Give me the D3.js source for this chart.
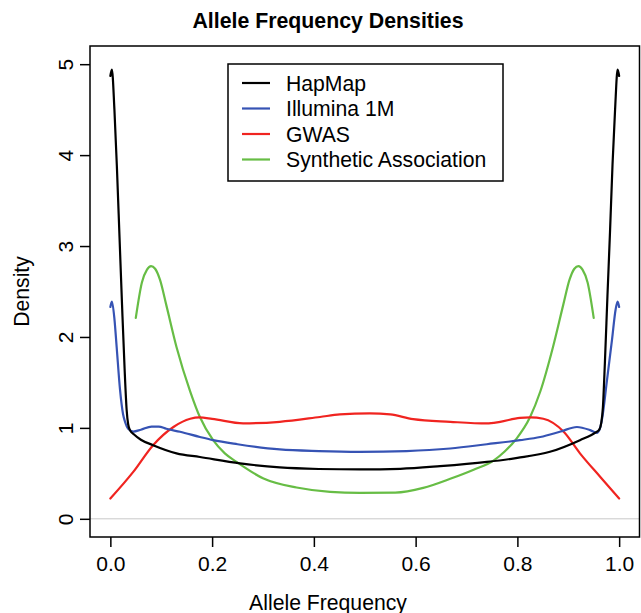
<!DOCTYPE html>
<html>
<head>
<meta charset="utf-8">
<script src="https://cdn.jsdelivr.net/npm/d3@7"></script>
<style>
  html, body { margin: 0; padding: 0; background: #fff; }
  svg { display: block; font-family: "Liberation Sans", Arial, Helvetica, sans-serif; }
</style>
</head>
<body>
<svg id="chart" width="641" height="613"></svg>
<script>
// ---- Data ----
const seriesNames = ["HapMap", "Illumina 1M", "GWAS", "Synthetic Association"];
const seriesColors = ["#000000", "#3653B4", "#F02420", "#67BD45"];

const hapmapX = [0, 0.003, 0.008, 0.013, 0.018, 0.023, 0.028, 0.032, 0.035, 0.039, 0.046, 0.06, 0.084, 0.13, 0.176, 0.255, 0.333, 0.41, 0.49, 0.57, 0.648, 0.74, 0.80, 0.864, 0.923, 0.954, 0.961, 0.965, 0.968, 0.972, 0.977, 0.982, 0.987, 0.992, 0.997, 1.0];
const hapmapY = [4.87, 4.94, 4.5, 3.85, 3.1, 2.35, 1.65, 1.2, 1.04, 0.97, 0.93, 0.87, 0.81, 0.72, 0.68, 0.61, 0.565, 0.548, 0.543, 0.55, 0.579, 0.626, 0.67, 0.737, 0.865, 0.95, 0.98, 1.06, 1.22, 1.72, 2.45, 3.15, 3.9, 4.5, 4.94, 4.87];

const illuminaX = [0, 0.003, 0.008, 0.0124, 0.019, 0.025, 0.0287, 0.035, 0.045, 0.06, 0.081, 0.095, 0.11, 0.137, 0.176, 0.202, 0.25, 0.333, 0.41, 0.49, 0.582, 0.668, 0.74, 0.805, 0.845, 0.885, 0.917, 0.943, 0.956, 0.962, 0.966, 0.976, 0.986, 0.993, 0.997, 1.0];
const illuminaY = [2.33, 2.39, 2.2, 1.89, 1.42, 1.15, 1.07, 0.99, 0.96, 0.98, 1.015, 1.015, 0.99, 0.957, 0.9, 0.865, 0.82, 0.763, 0.745, 0.737, 0.745, 0.773, 0.82, 0.865, 0.9, 0.96, 1.01, 0.975, 0.946, 0.99, 1.085, 1.52, 1.97, 2.3, 2.39, 2.33];

const gwasX = [0, 0.045, 0.084, 0.124, 0.157, 0.175, 0.2, 0.261, 0.333, 0.412, 0.451, 0.51, 0.55, 0.595, 0.668, 0.74, 0.766, 0.805, 0.825, 0.851, 0.891, 0.923, 0.963, 1.0];
const gwasY = [0.223, 0.516, 0.81, 1.01, 1.10, 1.115, 1.1, 1.05, 1.067, 1.12, 1.148, 1.16, 1.148, 1.096, 1.067, 1.049, 1.067, 1.11, 1.115, 1.10, 0.957, 0.72, 0.46, 0.223];

const synthX = [0.05, 0.062, 0.072, 0.08, 0.088, 0.0975, 0.11, 0.13, 0.157, 0.176, 0.202, 0.225, 0.248, 0.301, 0.366, 0.432, 0.49, 0.56, 0.615, 0.668, 0.714, 0.753, 0.775, 0.798, 0.825, 0.845, 0.87, 0.89, 0.9025, 0.912, 0.92, 0.928, 0.938, 0.95];
const synthY = [2.21, 2.6, 2.74, 2.78, 2.75, 2.63, 2.35, 1.89, 1.40, 1.12, 0.865, 0.72, 0.626, 0.443, 0.344, 0.296, 0.285, 0.288, 0.34, 0.44, 0.54, 0.64, 0.74, 0.88, 1.12, 1.40, 1.89, 2.35, 2.63, 2.75, 2.78, 2.74, 2.6, 2.21];

const xTicks = [0.0, 0.2, 0.4, 0.6, 0.8, 1.0];
const yTicks = [0, 1, 2, 3, 4, 5];

const titleText = "Allele Frequency Densities";
const xLabel = "Allele Frequency";
const yLabel = "Density";

// ---- Layout ----
const svg = d3.select("#chart");
const box = { left: 90, right: 639.5, top: 46, bottom: 537 };

const x = d3.scaleLinear().domain([-0.04, 1.04]).range([box.left, box.right]);
const y = d3.scaleLinear().domain([-0.2, 5.2]).range([box.bottom, box.top]);

// zero line
svg.append("line")
  .attr("x1", box.left).attr("x2", box.right)
  .attr("y1", y(0)).attr("y2", y(0))
  .attr("stroke", "#c8c8c8").attr("stroke-width", 1);

// curves
const seriesData = [
  d3.zip(hapmapX, hapmapY),
  d3.zip(illuminaX, illuminaY),
  d3.zip(gwasX, gwasY),
  d3.zip(synthX, synthY)
];
const line = d3.line().x(d => x(d[0])).y(d => y(d[1])).curve(d3.curveMonotoneX);
const drawOrder = [3, 2, 1, 0];
drawOrder.forEach(i => {
  svg.append("path")
    .attr("d", line(seriesData[i]))
    .attr("fill", "none")
    .attr("stroke", seriesColors[i])
    .attr("stroke-width", 2.2)
    .attr("stroke-linejoin", "round")
    .attr("stroke-linecap", "round");
});

// plot box
svg.append("rect")
  .attr("x", box.left).attr("y", box.top)
  .attr("width", box.right - box.left).attr("height", box.bottom - box.top)
  .attr("fill", "none").attr("stroke", "#000").attr("stroke-width", 1.5);

// x axis
const xAxis = d3.axisBottom(x).tickValues(xTicks).tickFormat(d3.format(".1f")).tickSize(10).tickPadding(9);
const gx = svg.append("g").attr("transform", `translate(0,${box.bottom})`).call(xAxis);
gx.select(".domain").remove();
gx.selectAll(".tick line").attr("stroke", "#000").attr("stroke-width", 1.5);
gx.selectAll(".tick text").attr("font-size", 21).attr("fill", "#000")
  .attr("font-family", "Liberation Sans, Arial, sans-serif");

// y axis
const yAxis = d3.axisLeft(y).tickValues(yTicks).tickFormat(d3.format("d")).tickSize(10).tickPadding(0);
const gy = svg.append("g").attr("transform", `translate(${box.left},0)`).call(yAxis);
gy.select(".domain").remove();
gy.selectAll(".tick line").attr("stroke", "#000").attr("stroke-width", 1.5);
gy.selectAll(".tick text")
  .attr("font-size", 21).attr("fill", "#000")
  .attr("font-family", "Liberation Sans, Arial, sans-serif")
  .attr("x", null).attr("dy", null)
  .attr("text-anchor", "middle")
  .attr("transform", "translate(-17,0) rotate(-90)")
  .attr("y", 0);

// title
svg.append("text")
  .attr("x", 328).attr("y", 28)
  .attr("text-anchor", "middle")
  .attr("font-size", 21.3).attr("font-weight", "bold")
  .text(titleText);

// axis labels
svg.append("text")
  .attr("x", 328).attr("y", 610)
  .attr("text-anchor", "middle")
  .attr("font-size", 21.2)
  .text(xLabel);

svg.append("text")
  .attr("transform", `translate(29,${(box.top + box.bottom) / 2}) rotate(-90)`)
  .attr("text-anchor", "middle")
  .attr("font-size", 21.2)
  .text(yLabel);

// legend
const lg = { x: 228, y: 64, w: 275, h: 117 };
svg.append("rect")
  .attr("x", lg.x).attr("y", lg.y).attr("width", lg.w).attr("height", lg.h)
  .attr("fill", "#fff").attr("stroke", "#000").attr("stroke-width", 1.5);
seriesNames.forEach((name, i) => {
  const cy = 83 + i * 25.5;
  svg.append("line")
    .attr("x1", 242).attr("x2", 270).attr("y1", cy).attr("y2", cy)
    .attr("stroke", seriesColors[i]).attr("stroke-width", 2.2);
  svg.append("text")
    .attr("x", 286).attr("y", cy + 7.5)
    .attr("font-size", 21.2)
    .text(name);
});
</script>
</body>
</html>
